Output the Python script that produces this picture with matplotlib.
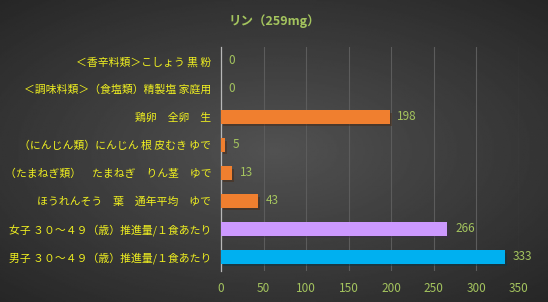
import matplotlib.pyplot as plt
import matplotlib.patheffects as pe
import numpy as np

plt.rcParams['font.family'] = ['Noto Sans CJK JP', 'DejaVu Sans']

# data (top to bottom as drawn)
categories = [
    '＜香辛料類＞こしょう 黒 粉',
    '＜調味料類＞（食塩類）精製塩 家庭用',
    '鶏卵　全卵　生',
    '（にんじん類）にんじん 根 皮むき ゆで',
    '（たまねぎ類）　たまねぎ　りん茎　ゆで',
    'ほうれんそう　葉　通年平均　ゆで',
    '女子 ３０～４９（歳）推進量/１食あたり',
    '男子 ３０～４９（歳）推進量/１食あたり',
]
values = [0, 0, 198, 5, 13, 43, 266, 333]
bar_colors = ['#f07f2f'] * 6 + ['#cc99ff', '#00b0f0']
title = 'リン（259mg）'
x_ticks = [0, 50, 100, 150, 200, 250, 300, 350]

colors = {
    'label': '#f0f020',
    'value': '#a4c45e',
    'grid': '#5c5c5c',
}

fig = plt.figure(figsize=(5.48, 3.02), dpi=100)

# radial dark background
bg = fig.add_axes([0, 0, 1, 1], zorder=-10)
yy, xx = np.mgrid[-1:1:200j, -1:1:360j]
r = np.sqrt(xx ** 2 * 0.8 + yy ** 2 * 0.9)
shade = np.clip(0.32 - 0.13 * r, 0.13, 1)
bg.imshow(shade, cmap='gray', vmin=0, vmax=1, aspect='auto',
          extent=[0, 1, 0, 1])
bg.set_axis_off()

ax = fig.add_axes([221 / 548, 31 / 302, 298 / 548, 224 / 302])
ax.patch.set_alpha(0)

y = np.arange(len(categories))
bars = ax.barh(y, values, height=0.47, color=bar_colors, zorder=3)
for b in bars:
    b.set_path_effects([pe.SimplePatchShadow(offset=(1.5, -1.5), alpha=0.45),
                        pe.Normal()])

ax.set_ylim(len(categories) - 0.5, -0.5)
ax.set_xlim(0, 350)
ax.set_yticks(y)
ax.set_yticklabels(categories, color=colors['label'], fontsize=7.8)
ax.set_xticks(x_ticks)
ax.tick_params(axis='x', colors=colors['value'], labelsize=8.5, length=0, pad=8)
ax.tick_params(axis='y', length=0, pad=7)

for yi, v in zip(y, values):
    ax.text(v + 9, yi, str(v), va='center', ha='left', fontsize=8.5,
            color=colors['value'], zorder=6)

ax.grid(axis='x', color=colors['grid'], linewidth=0.8, zorder=0)
ax.set_axisbelow(True)
for s in ['top', 'right', 'bottom']:
    ax.spines[s].set_visible(False)
ax.spines['left'].set_color('#b8b8b8')
ax.spines['left'].set_linewidth(0.9)

fig.text(0.5, 1 - 21 / 302, title, ha='center', va='center', fontsize=9,
         color=colors['value'], weight='bold')

fig.savefig('out.png', dpi=100)
plt.close()
